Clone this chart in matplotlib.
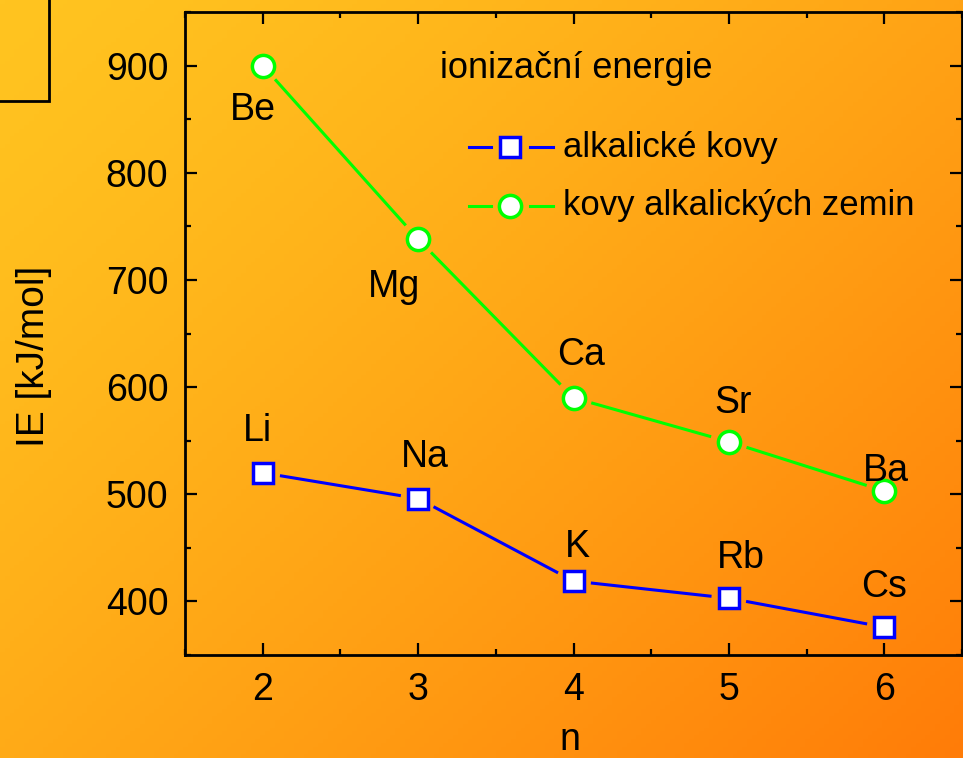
import numpy as np
import matplotlib
matplotlib.use('Agg')
import matplotlib.pyplot as plt
from matplotlib.lines import Line2D
from matplotlib.patches import Rectangle
from matplotlib.ticker import MultipleLocator
from matplotlib.transforms import IdentityTransform

plt.rcParams['font.family'] = ['Liberation Sans', 'DejaVu Sans']

# data
n_alk = [2, 3, 4, 5, 6]
ie_alk = [520, 496, 419, 403, 376]
names_alk = ['Li', 'Na', 'K', 'Rb', 'Cs']
n_earth = [2, 3, 4, 5, 6]
ie_earth = [900, 738, 590, 549, 503]
names_earth = ['Be', 'Mg', 'Ca', 'Sr', 'Ba']

# label offsets in pixels (dx, dy)
off_alk = [(-5, 42), (7, 42), (4, 34), (12, 40), (0, 40)]
off_earth = [(-10, -44), (-24, -48), (8, 43), (4, 39), (2, 20)]

BLUE = '#0000FF'
GREEN = '#00FF00'
W, H = 963, 758
fig = plt.figure(figsize=(W / 100, H / 100), dpi=100)

# diagonal gradient background
bg = fig.add_axes([0, 0, 1, 1], zorder=-10)
yy, xx = np.mgrid[0:1:200j, 0:1:200j]
t = np.clip(0.55 * xx + 0.45 * yy, 0, 1) ** 1.3
c0 = np.array([255, 196, 32]) / 255
c1 = np.array([255, 124, 8]) / 255
img = c0[None, None, :] * (1 - t[..., None]) + c1[None, None, :] * t[..., None]
bg.imshow(img, aspect='auto', extent=[0, 1, 1, 0])
bg.set_xlim(0, 1)
bg.set_ylim(1, 0)
bg.axis('off')

# partial box at top-left
fig.patches.append(Rectangle((-0.01, 1 - 101 / H), 49 / W + 0.01, 101 / H + 0.01,
                             transform=fig.transFigure, fill=False, lw=2, ec='black'))

ax = fig.add_axes([185 / W, (H - 655) / H, (962 - 185) / W, (655 - 12) / H])
ax.patch.set_alpha(0)
ax.set_xlim(1.5, 6.5)
ax.set_ylim(350, 950)


def gapped_line(xs, ys, color, gap):
    # connecting segments that stop short of the markers (Origin style)
    pts = ax.transData.transform(np.column_stack([xs, ys]))
    for p, q in zip(pts[:-1], pts[1:]):
        d = q - p
        L = np.hypot(*d)
        u = d / L
        a, b = p + u * gap, q - u * gap
        ax.add_line(Line2D([a[0], b[0]], [a[1], b[1]], transform=IdentityTransform(),
                           color=color, lw=2.2, zorder=2))


gapped_line(n_alk, ie_alk, BLUE, 19)
gapped_line(n_earth, ie_earth, GREEN, 20)
ax.plot(n_alk, ie_alk, ls='none', marker='s', ms=14.5, mfc='white',
        mec=BLUE, mew=2.5, zorder=3)
ax.plot(n_earth, ie_earth, ls='none', marker='o', ms=16, mfc='white',
        mec=GREEN, mew=2.5, zorder=3)

for x, y, s, o in zip(n_alk, ie_alk, names_alk, off_alk):
    ax.annotate(s, (x, y), xytext=o, textcoords='offset pixels', ha='center',
                va='center', fontsize=27)
for x, y, s, o in zip(n_earth, ie_earth, names_earth, off_earth):
    ax.annotate(s, (x, y), xytext=o, textcoords='offset pixels', ha='center',
                va='center', fontsize=27)

ax.xaxis.set_major_locator(MultipleLocator(1))
ax.xaxis.set_minor_locator(MultipleLocator(0.5))
ax.yaxis.set_major_locator(MultipleLocator(100))
ax.yaxis.set_minor_locator(MultipleLocator(50))
ax.tick_params(which='both', direction='in', top=True, right=True, width=1.6,
               labelsize=27, pad=12)
ax.tick_params(which='major', length=8.5)
ax.tick_params(which='minor', length=4.5)
for sp in ax.spines.values():
    sp.set_linewidth(2)

ax.set_xlabel('n', fontsize=27)
ax.set_ylabel('IE [kJ/mol]', fontsize=28)
ax.xaxis.set_label_coords(0.4955, -0.104)
ax.yaxis.set_label_coords(-0.171, 0.465)


def ax_xy(px, py):
    return (px - 185) / 777, (655 - py) / 643


# legend (title + Origin-like samples with broken lines)
tx, ty = ax_xy(440, 68)
ax.text(tx, ty, 'ionizační energie', transform=ax.transAxes, fontsize=26,
        ha='left', va='center')
legend_rows = [('alkalické kovy', BLUE, 's', 14.5, 147),
               ('kovy alkalických zemin', GREEN, 'o', 16, 206)]
for label, col, mk, ms, py in legend_rows:
    _, y = ax_xy(0, py)
    for x0, x1 in [(469, 491), (530, 553)]:
        ax.add_line(Line2D([ax_xy(x0, 0)[0], ax_xy(x1, 0)[0]], [y, y],
                           transform=ax.transAxes, color=col, lw=2.2))
    ax.add_line(Line2D([ax_xy(510, 0)[0]], [y], transform=ax.transAxes, ls='none',
                       marker=mk, ms=ms, mfc='white', mec=col, mew=2.5))
    ax.text(ax_xy(563, 0)[0], y, label, transform=ax.transAxes, fontsize=25,
            ha='left', va='center')

fig.savefig('out.png', dpi=100)
